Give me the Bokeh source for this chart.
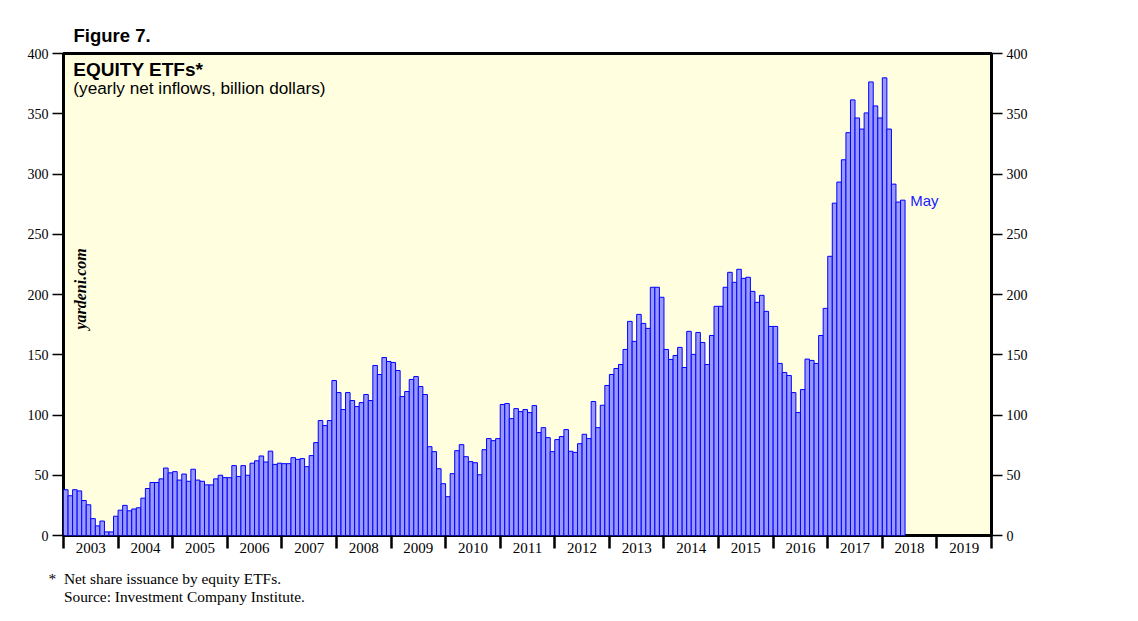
from bokeh.plotting import figure
from bokeh.models import (Range1d, LinearAxis, FixedTicker, Label, Title,
                          CustomJSTickFormatter, ColumnDataSource)
from bokeh.embed import file_html
from bokeh.resources import INLINE
import math

# ---- data: yearly net inflows into equity ETFs (billion dollars), monthly ----
y2003 = [38, 33, 38, 37, 29, 25.5, 14, 8, 12, 3, 3, 16]
y2004 = [21, 25, 20.5, 22, 23, 31, 39, 44, 44, 47, 56, 52]
y2005 = [53, 46, 51, 45, 55, 46, 45, 42, 42, 47, 50, 48]
y2006 = [48, 58, 49, 58, 50, 60, 62, 66, 61, 70, 59, 60]
y2007 = [59.6, 59.6, 64.6, 63.2, 63.8, 57.1, 66.3, 77.1, 95.4, 91.2, 95.4, 128.6]
y2008 = [118.6, 104.5, 118.6, 112.0, 107.0, 110.3, 117.0, 112.0, 141.1, 133.6, 147.7, 144.4]
y2009 = [143.6, 136.9, 115.3, 119.5, 129.5, 131.9, 123.6, 117.0, 73.7, 69.6, 55.4, 43.0]
y2010 = [32.2, 51.3, 70.4, 75.4, 65.4, 61.3, 60.4, 50.4, 71.2, 80.4, 78.7, 80.4]
y2011 = [108.7, 109.5, 97.0, 105.3, 102.8, 104.5, 102.0, 107.8, 85.4, 89.5, 81.2, 69.6]
y2012 = [79.6, 82.1, 87.9, 69.9, 69.0, 76.2, 84.0, 80.4, 111.2, 89.5, 108.1, 124.5]
y2013 = [133.6, 138.6, 141.9, 154.4, 177.7, 161.1, 183.5, 176.0, 171.9, 206.0, 206.0, 197.7]
y2014 = [154.4, 146.1, 149.4, 156.1, 139.4, 169.4, 150.3, 168.5, 160.2, 141.9, 166.0, 190.2]
y2015 = [190.2, 206.0, 218.4, 210.1, 220.9, 213.4, 214.3, 202.6, 193.5, 199.3, 186.0, 173.5]
y2016 = [173.5, 142.8, 135.3, 132.8, 118.6, 102.0, 121.1, 146.4, 145.3, 142.8, 166.0, 188.5]
y2017 = [231.7, 275.8, 293.3, 311.8, 334.3, 361.5, 346.5, 337.3, 350.7, 376.4, 356.5, 346.5]
y2018 = [379.8, 337.3, 291.6, 276.7, 278.3]

start_year = 2003
values = (y2003 + y2004 + y2005 + y2006 + y2007 + y2008 + y2009 + y2010 +
          y2011 + y2012 + y2013 + y2014 + y2015 + y2016 + y2017 + y2018)
years = list(range(2003, 2020))          # axis labels 2003 .. 2019
y_ticks = [0, 50, 100, 150, 200, 250, 300, 350, 400]
last_label = "May"

x_centers = [start_year + (i + 0.5) / 12 for i in range(len(values))]
src = ColumnDataSource(dict(x=x_centers, top=values))

SERIF = "Liberation Serif"
SANS = "Liberation Sans"

p = figure(width=1130, height=618, output_backend="svg", toolbar_location=None,
           x_range=Range1d(years[0], years[-1] + 1), y_range=Range1d(0, 400),
           min_border_left=63, min_border_right=139, min_border_top=53,
           min_border_bottom=83)
p.background_fill_color = "#ffffe0"
p.border_fill_color = "white"
p.outline_line_color = "black"
p.outline_line_width = 3
p.xgrid.visible = False
p.ygrid.visible = False

p.title = Title(text="Figure 7.", align="left", offset=10, standoff=15,
                text_font=SANS, text_font_style="bold", text_font_size="18.5px",
                text_color="black")

p.vbar(x="x", top="top", width=1 / 12, source=src, fill_color="#9999ff",
       line_color="#0000ff", line_width=1)

# y axes (left + right)
right = LinearAxis()
p.add_layout(right, "right")
for ax in (p.yaxis[0], right):
    ax.ticker = FixedTicker(ticks=y_ticks)
    ax.axis_line_color = None
    ax.major_tick_out = 11
    ax.major_tick_in = 0
    ax.minor_tick_out = 0
    ax.minor_tick_in = 0
    ax.major_tick_line_color = "black"
    ax.major_tick_line_width = 1.3
    ax.major_label_text_font = SERIF
    ax.major_label_text_font_size = "14px"
    ax.major_label_text_color = "black"
    ax.major_label_standoff = 4

# x axis: labels mid-year, tick marks at year boundaries (minor ticks)
xa = p.xaxis[0]
xa.ticker = FixedTicker(ticks=[y + 0.5 for y in years],
                        minor_ticks=[y for y in years] + [years[-1] + 1])
xa.formatter = CustomJSTickFormatter(code="return String(Math.floor(tick));")
xa.axis_line_color = None
xa.major_tick_out = 0
xa.major_tick_in = 0
xa.minor_tick_out = 13
xa.minor_tick_in = 0
xa.minor_tick_line_color = "black"
xa.minor_tick_line_width = 2.5
xa.major_label_text_font = SERIF
xa.major_label_text_font_size = "15px"
xa.major_label_text_color = "black"
xa.major_label_standoff = -6

# footnotes below the axis
p.add_layout(Title(text="*\u00a0\u00a0Net share issuance by equity ETFs.\n"
                        "\u00a0\u00a0\u00a0\u00a0Source: Investment Company Institute.",
                   align="left", offset=-15, standoff=25, text_font=SERIF,
                   text_font_style="normal", text_font_size="15.4px",
                   text_line_height=1.05, text_color="black"), "below")

# texts inside the frame
p.add_layout(Label(x=2003.18, y=386.8, text="EQUITY ETFs*", text_font=SANS,
                   text_font_style="bold", text_font_size="19px",
                   text_baseline="alphabetic", text_color="black"))
p.add_layout(Label(x=2003.18, y=371.0, text="(yearly net inflows, billion dollars)",
                   text_font=SANS, text_font_size="17.2px",
                   text_baseline="alphabetic", text_color="black"))
p.add_layout(Label(x=2003.31, y=204.6, text="yardeni.com", text_font=SERIF,
                   text_font_style="bold italic", text_font_size="16px",
                   angle=math.pi / 2, text_align="center",
                   text_baseline="middle", text_color="black"))
p.add_layout(Label(x=2018.51, y=values[-1], text=last_label, text_font=SANS,
                   text_font_size="15px", text_baseline="middle",
                   text_color="#2020ff"))

open("out.html", "w").write(file_html(p, INLINE))
